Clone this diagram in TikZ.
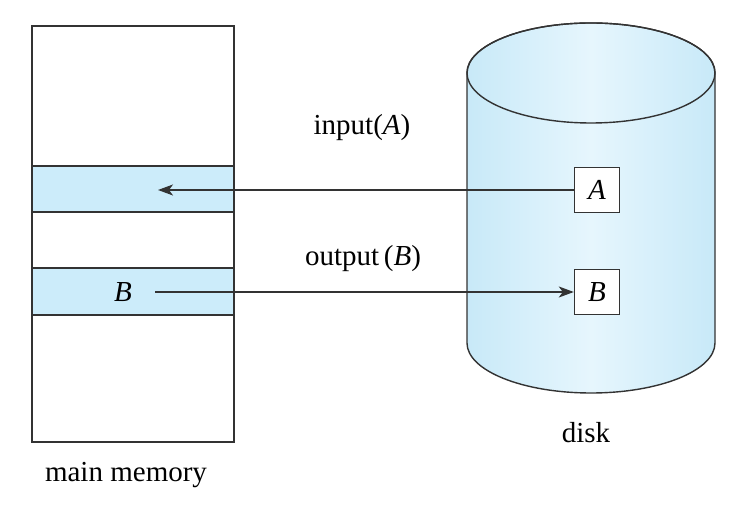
\documentclass[tikz,border=0pt]{standalone}
\usepackage{fontspec}
\setmainfont{Liberation Serif}
\usepackage{tikz}
\usetikzlibrary{arrows.meta,positioning,calc}
\definecolor{bandblue}{RGB}{204,236,250}
\definecolor{diskedge}{RGB}{200,233,248}
\definecolor{diskmid}{RGB}{230,246,253}
\definecolor{inkgray}{gray}{0.2}
\tikzset{
  outln/.style={draw=inkgray,line width=1.4pt},
  band/.style={outln,fill=bandblue},
  blockbox/.style={outln,fill=white,minimum size=45pt,inner sep=0pt,font=\fontsize{29}{34}\selectfont},
  xfer/.style={-{Stealth[length=15pt,width=11pt,inset=4pt]},draw=inkgray,line width=1.3pt},
  lab/.style={anchor=base,font=\fontsize{29}{34}\selectfont},
}

\begin{document}
\begin{tikzpicture}[x=1pt,y=1pt]
        \useasboundingbox (0,0) rectangle (746,516);
        % main memory with its two blocks
        \draw[outln] (32,74) rectangle (234,490);
        \draw[band] (32,304) rectangle (234,350);
        \draw[band] (32,201) rectangle (234,248);
        \node[font=\fontsize{29}{34}\selectfont] (memB) at (123,224) {\textit{B}};
        % disk cylinder
        \draw[outln,left color=diskedge,right color=diskedge,middle color=diskmid]
              (467,443) -- (467,173)
              arc[start angle=180,end angle=360,x radius=124pt,y radius=50pt]
              -- (715,443)
              arc[start angle=0,end angle=180,x radius=124pt,y radius=50pt] -- cycle;
        \draw[outln] (591,443) ellipse[x radius=124pt,y radius=50pt];
        \node[blockbox] (boxA) at (597,326) {\textit{A}};
        \node[blockbox] (boxB) at (597,224) {\textit{B}};
        % transfers
        \coordinate (inA) at (158,326);
        \coordinate (outB) at (155,224);
        \draw[xfer] (boxA.west) -- (inA);
        \draw[xfer] (outB) -- (boxB.west);
        \node[lab] (inLab)   at (362,381) {input(\textit{A})};
        \node[lab] (outLab)  at (363,250) {output\,(\textit{B})};
        \node[lab] (memLab)  at (126,34)  {main memory};
        \node[lab] (diskLab) at (586,73)  {disk};
      \end{tikzpicture}
\end{document}
